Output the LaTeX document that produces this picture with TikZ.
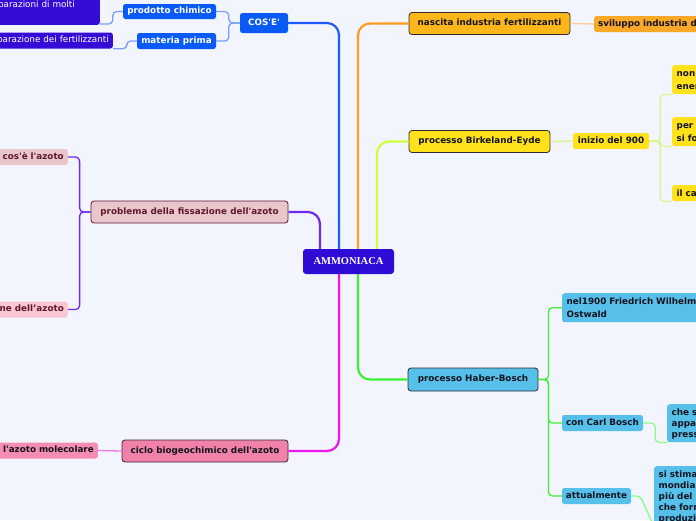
\documentclass[tikz,border=0pt]{standalone}
\usepackage{fontspec}
\newfontfamily\mapfont{DejaVu Sans}
\newfontfamily\rootfont{Liberation Serif}
\definecolor{paper}{RGB}{242,245,254}
\definecolor{rootfill}{RGB}{46,12,214}
\definecolor{bluebr}{RGB}{30,90,255}
\definecolor{bluefill}{RGB}{10,90,245}
\definecolor{bluesub}{RGB}{120,160,250}
\definecolor{violetfill}{RGB}{52,12,214}
\definecolor{purplebr}{RGB}{110,40,240}
\definecolor{rosefill}{RGB}{232,198,202}
\definecolor{rosedark}{RGB}{95,25,45}
\definecolor{pinkfill}{RGB}{249,199,211}
\definecolor{magentabr}{RGB}{240,20,240}
\definecolor{cyclefill}{RGB}{240,130,170}
\definecolor{cyclesub}{RGB}{245,140,180}
\definecolor{magsub}{RGB}{240,120,230}
\definecolor{orangebr}{RGB}{255,155,30}
\definecolor{orangefill}{RGB}{254,183,26}
\definecolor{orangesub}{RGB}{250,168,40}
\definecolor{orangeline}{RGB}{255,205,150}
\definecolor{limebr}{RGB}{205,255,60}
\definecolor{yellowfill}{RGB}{255,226,26}
\definecolor{limesub}{RGB}{215,245,140}
\definecolor{greenbr}{RGB}{60,240,50}
\definecolor{skyfill}{RGB}{86,191,234}
\definecolor{greensub}{RGB}{140,250,130}
\definecolor{ink}{RGB}{20,20,30}
\definecolor{boxline}{RGB}{50,40,45}
\tikzset{
    topic/.style={draw=boxline, line width=0.8pt, rounded corners=3pt,
        minimum height=22pt, inner sep=0pt, text=ink,
        font=\mapfont\bfseries\fontsize{8.8}{11}\selectfont,
        text height=6.7pt, text depth=2pt},
    subtopic/.style={rounded corners=2.5pt, minimum height=16pt, inner sep=0pt,
        text=ink, font=\mapfont\bfseries\fontsize{8.8}{11}\selectfont,
        text height=6.7pt, text depth=2pt},
    cutleft/.style={subtopic, anchor=east, inner xsep=4pt, text width=#1, align=right},
    plain/.style={font=\mapfont\fontsize{8.8}{11}\selectfont},
    note/.style={rounded corners=2.5pt, inner xsep=4.5pt, inner ysep=2pt,
        anchor=north west, align=left, text width=60pt, text=ink,
        font=\mapfont\bfseries\fontsize{8.8}{11}\selectfont,
        execute at begin node={\rule[-3pt]{0pt}{12pt}},
        execute at end node={\rule[-3pt]{0pt}{12pt}}},
    branch/.style={line width=2.2pt, rounded corners=12pt},
    twig/.style={line width=1.3pt, rounded corners=4pt},
}
\begin{document}
\begin{tikzpicture}[x=1pt,y=-1pt]
\useasboundingbox (0,0) rectangle (696,520);
\fill[paper] (0,0) rectangle (696,520);
\clip (0,0) rectangle (696,520);
% centre
\node[fill=rootfill, rounded corners=3pt, minimum width=91pt, minimum height=25pt,
    inner sep=0pt, text=white, font=\rootfont\bfseries\fontsize{10.5}{12}\selectfont]
    (ammoniaca) at (348.5,261.5) {AMMONIACA};
% left side
\node[subtopic, fill=bluefill, text=white, minimum width=48pt, minimum height=20pt] (cose) at (264,23) {COS'E'};
\node[subtopic, fill=bluefill, text=white, minimum width=93pt, minimum height=15pt] (prodotto) at (169.5,11.5) {prodotto chimico};
\node[subtopic, fill=bluefill, text=white, minimum width=79pt] (materia) at (176.5,41) {materia prima};
\node[cutleft=110pt, plain, anchor=south east, inner xsep=25pt, minimum height=40pt,
    fill=violetfill, text=white] (molti) at (100,25) {parazioni di molti};
\node[cutleft=130pt, plain, fill=violetfill, text=white] (fert) at (113,40.5) {parazione dei fertilizzanti};
\node[topic, fill=rosefill, draw=rosedark, text=rosedark, minimum width=197pt] (problema) at (189.5,212) {problema della fissazione dell'azoto};
\node[cutleft=80pt, fill=rosefill, text=rosedark] (cosazoto) at (68,157) {cos'è l'azoto};
\node[cutleft=80pt, fill=pinkfill, text=rosedark] (nedell) at (68,309.5) {ne dell’azoto};
\node[topic, fill=cyclefill, minimum width=166pt] (ciclo) at (205,451) {ciclo biogeochimico dell'azoto};
\node[cutleft=110pt, fill=cyclesub] (molec) at (98,450.5) {l'azoto molecolare};
% right side
\node[topic, fill=orangefill, minimum width=161pt] (nascita) at (489.5,23.5) {nascita industria fertilizzanti};
\node[subtopic, anchor=west, fill=orangesub, text width=120pt, align=left, inner xsep=4pt] (sviluppo) at (594,24) {sviluppo industria d};
\node[topic, fill=yellowfill, minimum width=141pt] (birkeland) at (479.5,141.5) {processo Birkeland-Eyde};
\node[subtopic, fill=yellowfill, minimum width=76pt] (inizio) at (611,141) {inizio del 900};
\node[note, fill=yellowfill] (nonener) at (672,65) {non\\ener};
\node[note, fill=yellowfill] (persifo) at (672,117) {per\\si fo};
\node[note, fill=yellowfill] (ilca) at (672,185) {il ca};
\node[topic, fill=skyfill, minimum width=130pt, minimum height=23pt] (haber) at (473,379.5) {processo Haber-Bosch};
\node[note, fill=skyfill, text width=150pt] (ostwald) at (562,293) {nel1900 Friedrich Wilhelm\\Ostwald};
\node[subtopic, fill=skyfill, minimum width=81pt] (carl) at (602.5,423) {con Carl Bosch};
\node[subtopic, fill=skyfill, minimum width=69pt] (attual) at (596.5,496) {attualmente};
\node[note, fill=skyfill] (ches) at (667,404) {che s\\appa\\press};
\node[note, fill=skyfill] (sistima) at (654,466) {si stima\\mondia\\più del\\che forn\\produzi};
% branches
\draw[branch, bluebr] ([xshift=-9.5pt]ammoniaca.north) |- (cose.east);
\draw[branch, purplebr] ([xshift=-28.5pt]ammoniaca.north) |- (problema.east);
\draw[branch, orangebr] ([xshift=9.5pt]ammoniaca.north) |- (nascita.west);
\draw[branch, limebr] ([xshift=28.5pt]ammoniaca.north) |- (birkeland.west);
\draw[branch, magentabr] ([xshift=-9.5pt]ammoniaca.south) |- (ciclo.east);
\draw[branch, greenbr] ([xshift=9.5pt]ammoniaca.south) |- (haber.west);
% twigs
\draw[twig, bluesub] (cose.west) -- ++(-11,0) |- (prodotto.east);
\draw[twig, bluesub] (cose.west) -- ++(-11,0) |- (materia.east);
\draw[twig, bluesub] (prodotto.west) -- ++(-10,0) |- ([yshift=1pt]molti.south east);
\draw[twig, bluesub] (materia.west) -- ++(-10,0) |- (fert.south east);
\draw[twig, purplebr] (problema.west) -- ++(-11,0) |- (cosazoto.east);
\draw[twig, purplebr] (problema.west) -- ++(-11,0) |- (nedell.east);
\draw[twig, magsub] (ciclo.west) -- (molec.east);
\draw[twig, orangeline] (nascita.east) -- (sviluppo.west);
\draw[twig, limesub] (birkeland.east) -- (inizio.west);
\draw[twig, limesub] (inizio.east) -- ++(11,0) |- (nonener.south west);
\draw[twig, limesub] (inizio.east) -- ++(11,0) |- (persifo.south west);
\draw[twig, limesub] (inizio.east) -- ++(11,0) |- (ilca.south west);
\draw[twig, greenbr] (haber.east) -- ++(10,0) |- (ostwald.west);
\draw[twig, greenbr] (haber.east) -- ++(10,0) |- (carl.west);
\draw[twig, greenbr] (haber.east) -- ++(10,0) |- (attual.west);
\draw[twig, greensub] (carl.east) -- ++(12,0) |- (ches.south west);
\draw[twig, greensub] (attual.east) -- ++(9,0) -- (sistima.south west);
\end{tikzpicture}
\end{document}
